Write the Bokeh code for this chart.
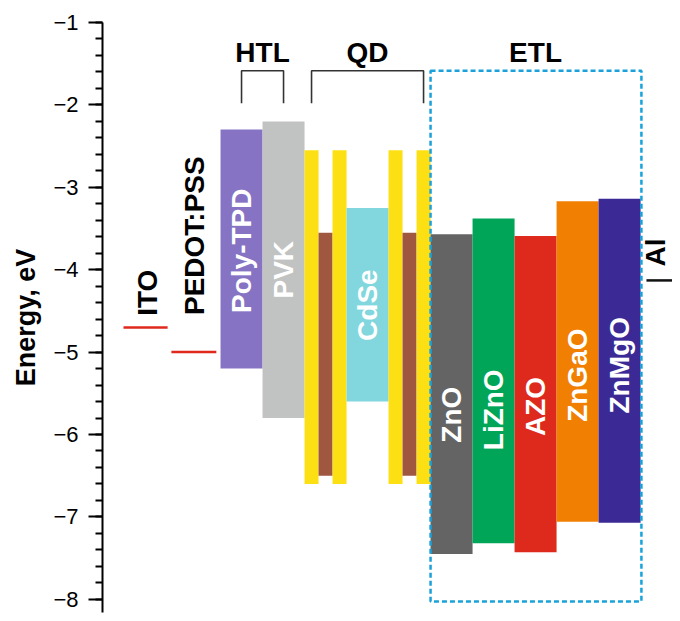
import math
from bokeh.plotting import figure
from bokeh.models import Range1d, SingleIntervalTicker, ColumnDataSource
from bokeh.core.properties import value
from bokeh.embed import file_html
from bokeh.resources import INLINE

# ---------------- data ----------------
layer_names = ["Poly-TPD", "PVK", "", "", "", "CdSe", "", "", "",
               "ZnO", "LiZnO", "AZO", "ZnGaO", "ZnMgO"]
layer_lumo = [-2.30, -2.20, -2.55, -3.55, -2.55, -3.25, -2.55, -3.55, -2.55,
              -3.57, -3.38, -3.59, -3.17, -3.14]
layer_homo = [-5.20, -5.80, -6.60, -6.50, -6.60, -5.60, -6.60, -6.50, -6.60,
              -7.45, -7.32, -7.43, -7.06, -7.07]
layer_colors = ["#8673c4", "#c1c2c2", "#fde014", "#a0573f", "#fde014", "#81d7dd",
                "#fde014", "#a0573f", "#fde014",
                "#646464", "#00a557", "#de2a1c", "#f07f02", "#3b2a95"]
layer_widths = [1, 1, 1/3, 1/3, 1/3, 1, 1/3, 1/3, 1/3, 1, 1, 1, 1, 1]

electrode_names = ["ITO", "PEDOT:PSS", "Al"]
electrode_levels = [-4.70, -5.00, -4.13]
electrode_colors = ["#e0281c", "#e0281c", "#111111"]

y_ticks_interval = 1

# ---------------- layout helpers ----------------
lefts = []
acc = 0.0
for w in layer_widths:
    lefts.append(acc)
    acc += w
rights = [l + w for l, w in zip(lefts, layer_widths)]
centers = [(l + r) / 2 for l, r in zip(lefts, rights)]

X_END = 10.76
p = figure(width=672, height=613,
           x_range=Range1d(-2.81, X_END), y_range=Range1d(-8.16, -1),
           output_backend="svg", toolbar_location=None,
           min_border_left=102, min_border_right=0,
           min_border_top=22, min_border_bottom=1)
p.xaxis.visible = False
p.grid.visible = False
p.outline_line_color = None
p.background_fill_color = "white"
p.border_fill_color = "white"

ax = p.yaxis[0]
ax.ticker = SingleIntervalTicker(interval=y_ticks_interval, num_minor_ticks=5)
ax.major_tick_out = 14
ax.major_tick_in = 0
ax.minor_tick_out = 7
ax.minor_tick_in = 0
ax.axis_line_width = 2
ax.major_tick_line_width = 2
ax.minor_tick_line_width = 2
ax.axis_line_color = "black"
ax.major_tick_line_color = "black"
ax.minor_tick_line_color = "black"
ax.major_label_text_font = "Liberation Sans"
ax.major_label_text_font_size = "22px"
ax.major_label_text_color = "black"
ax.major_label_standoff = 10
ax.axis_label = "Energy, eV"
ax.axis_label_text_font = "Liberation Sans"
ax.axis_label_text_font_style = "bold"
ax.axis_label_text_font_size = "27px"
ax.axis_label_text_color = "black"
ax.axis_label_standoff = 9

# layer bars
src = ColumnDataSource(dict(left=lefts, right=rights, top=layer_lumo,
                            bottom=layer_homo, color=layer_colors))
p.quad(left="left", right="right", top="top", bottom="bottom",
       fill_color="color", line_color=None, source=src)

# electrode levels
el_x0 = [-2.31, -1.17, 10.14]
el_x1 = [-1.26, -0.10, X_END]
p.segment(x0=el_x0, x1=el_x1, y0=electrode_levels, y1=electrode_levels,
          line_color=electrode_colors, line_width=2.5)

FONT = value("Liberation Sans")

# electrode labels (vertical, reading upward)
p.text(x=[-1.74, -0.62, 10.36], y=[-4.56, -4.55, -3.96], text=electrode_names,
       angle=math.pi / 2, text_align="left", text_baseline="middle",
       text_font=FONT, text_font_style="bold", text_font_size="28px",
       text_color="black")

# layer labels inside bars
lab_idx = [i for i, n in enumerate(layer_names) if n]
lab_y = {"Poly-TPD": -3.77, "PVK": -4.0, "CdSe": -4.43, "ZnO": -5.76,
         "LiZnO": -5.70, "AZO": -5.66, "ZnGaO": -5.28, "ZnMgO": -5.16}
p.text(x=[centers[i] for i in lab_idx],
       y=[lab_y[layer_names[i]] for i in lab_idx],
       text=[layer_names[i] for i in lab_idx],
       angle=math.pi / 2, text_align="center", text_baseline="middle",
       text_font=FONT, text_font_style="bold", text_font_size="28px",
       text_color="white")

# brackets for HTL and QD
b_top, b_bot = -1.585, -1.98
p.multi_line(xs=[[centers[0], centers[0], centers[1], centers[1]],
                 [centers[2], centers[2], centers[8], centers[8]]],
             ys=[[b_bot, b_top, b_top, b_bot]] * 2,
             line_color="#333333", line_width=1.6)

# ETL dashed box
p.quad(left=[lefts[9]], right=[rights[13] + 0.02], top=[-1.585], bottom=[-8.025],
       fill_color=None, line_color="#1ba1d9", line_width=2.5, line_dash="5 3")

# group labels
p.text(x=[(centers[0] + centers[1]) / 2, (centers[2] + centers[8]) / 2,
          (lefts[9] + rights[13]) / 2],
       y=[-1.37, -1.37, -1.37], text=["HTL", "QD", "ETL"],
       text_align="center", text_baseline="alphabetic",
       text_font=FONT, text_font_style="bold", text_font_size="28px",
       text_color="black")

open("out.html", "w").write(file_html(p, INLINE))
